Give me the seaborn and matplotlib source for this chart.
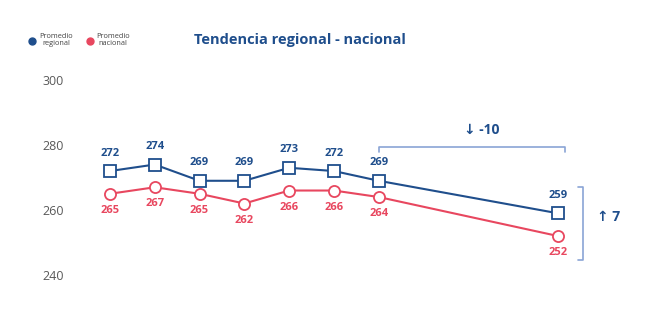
import matplotlib
matplotlib.use("Agg")
import matplotlib.pyplot as plt
from matplotlib.lines import Line2D
import seaborn as sns
import pandas as pd

periodo = [0, 1, 2, 3, 4, 5, 6, 10]
regional = [272, 274, 269, 269, 273, 272, 269, 259]
nacional = [265, 267, 265, 262, 266, 266, 264, 252]
y_ticks = [240, 260, 280, 300]
serie_reg = "Promedio\nregional"
serie_nac = "Promedio\nnacional"
titulo = "Tendencia regional - nacional"
delta_reg = "↓ -10"
delta_gap = "↑ 7"

BLUE = "#1f4e8c"
RED = "#e8475f"
BRACKET = "#8aa4d6"
GRAY = "#595959"

sns.set_theme(style="white")
plt.rcParams["font.family"] = ["Open Sans", "DejaVu Sans"]

df = pd.DataFrame({
    "periodo": periodo * 2,
    "valor": regional + nacional,
    "serie": [serie_reg] * len(periodo) + [serie_nac] * len(periodo),
})

fig = plt.figure(figsize=(6.55, 3.3), dpi=100)
ax = fig.add_axes([0.1145, 0.0909, 0.8015, 0.727])

sns.lineplot(data=df, x="periodo", y="valor", hue="serie", style="serie",
             palette={serie_reg: BLUE, serie_nac: RED},
             markers={serie_reg: "s", serie_nac: "o"}, dashes=False,
             markerfacecolor="white", markeredgewidth=1.3, markersize=8,
             linewidth=1.5, legend=False, ax=ax)
for line, col in zip(ax.lines, [BLUE, RED]):
    line.set_markeredgecolor(col)

for x, v in zip(periodo, regional):
    ax.annotate(str(v), (x, v), xytext=(0, 9), textcoords="offset points",
                ha="center", va="bottom", fontsize=8, fontweight="bold", color=BLUE)
for x, v in zip(periodo, nacional):
    ax.annotate(str(v), (x, v), xytext=(0, -8), textcoords="offset points",
                ha="center", va="top", fontsize=8, fontweight="bold", color=RED)

ax.set_xlim(-0.78, 10.94)
ax.set_ylim(232.3, 306.15)
ax.set_yticks(y_ticks)
ax.set_yticklabels([str(t) for t in y_ticks], color=GRAY, fontsize=9)
ax.tick_params(axis="y", length=0, pad=8)
ax.set_xticks([])
ax.set_xlabel("")
ax.set_ylabel("")
for s in ax.spines.values():
    s.set_visible(False)

# top bracket
bx0, bx1, by = periodo[6], 10.15, 279.4
ax.plot([bx0, bx0, bx1, bx1], [by - 1.4, by, by, by - 1.4], color=BRACKET,
        lw=1.2, clip_on=False)
ax.text(8.3, 284.6, delta_reg, ha="center", va="center", fontsize=10,
        fontweight="bold", color=BLUE, family=["Open Sans", "DejaVu Sans"])

# right bracket
rx, ry0, ry1 = 10.56, 244.6, 267.1
ax.plot([rx - 0.11, rx, rx, rx - 0.11], [ry0, ry0, ry1, ry1], color=BRACKET,
        lw=1.2, clip_on=False)
ax.text(10.88, 257.8, delta_gap, ha="left", va="center", fontsize=10,
        fontweight="bold", color=BLUE, clip_on=False,
        family=["Open Sans", "DejaVu Sans"])

fig.text(0.458, 0.878, titulo, ha="center", va="center", fontsize=10.5,
         fontweight="bold", color=BLUE)

# legend (manual, centred two-line labels)
for (mx, tx), col, lab in zip([(32, 56), (90, 113)], [BLUE, RED],
                              [serie_reg, serie_nac]):
    fig.add_artist(Line2D([mx / 655], [1 - 41 / 330], marker="o", ls="",
                          color=col, markersize=5, transform=fig.transFigure))
    fig.text(tx / 655, 1 - 40 / 330, lab, ha="center", va="center",
             multialignment="center", fontsize=5.3, color="#444444",
             linespacing=1.1)

fig.savefig("out.png", dpi=100)
